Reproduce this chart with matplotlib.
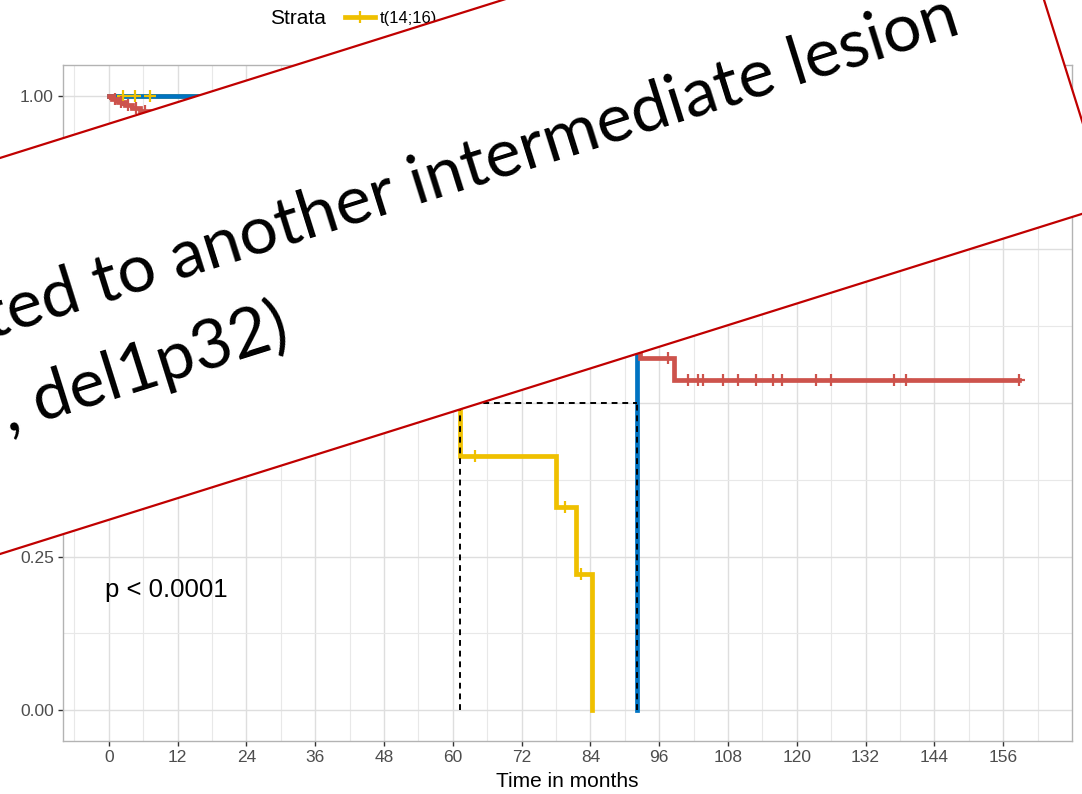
import matplotlib

matplotlib.use("Agg")
import matplotlib.pyplot as plt
import numpy as np
from matplotlib.lines import Line2D
from matplotlib.patches import Polygon

# --- Kaplan-Meier data (months, survival probability) -----------------------
yellow_label = "t(14;16)"
yellow_times = [0, 61.2, 78.0, 81.4, 84.3]
yellow_surv = [1.0, 0.413, 0.331, 0.221, 0.0]
yellow_cens_t = [2.4, 4.5, 7.2, 63.8, 79.5, 82.4]

blue_times = [0, 92.2]
blue_surv = [1.0, 0.0]
blue_cens_t = []

red_times = [0, 0.5, 1.6, 2.8, 4.0, 5.4, 92.6, 98.6]
red_surv = [1.0, 0.995, 0.99, 0.985, 0.98, 0.975, 0.573, 0.538]
red_end = 158.8
red_cens_t = [1.0, 2.2, 3.4, 4.8, 6.3, 97.5, 101.1, 102.8, 103.6, 107.2,
              109.7, 112.9, 115.9, 117.5, 123.3, 125.9, 137.0, 139.0, 158.8]

x_ticks = list(range(0, 157, 12))
y_ticks = [0.0, 0.25, 0.50, 0.75, 1.00]
p_text = "p < 0.0001"
banner_lines = ["ted to another intermediate lesion", ", del1p32)"]

YELLOW, BLUE, RED = "#EFC000", "#0073C2", "#CD534C"
W, H = 1082, 794


def surv_at(times, surv, t):
    idx = np.searchsorted(times, t, side="right") - 1
    return np.asarray(surv)[idx]


def median_time(times, surv):
    for t, s in zip(times, surv):
        if s <= 0.5:
            return t
    return None


fig = plt.figure(figsize=(W / 100, H / 100), dpi=100)
ax = fig.add_axes([63 / W, 1 - 741 / H, (1072 - 63) / W, (741 - 65) / H])

curves = [
    (yellow_times, yellow_surv, yellow_times[-1], yellow_cens_t, YELLOW),
    (blue_times, blue_surv, blue_times[-1], blue_cens_t, BLUE),
    (red_times, red_surv, red_end, red_cens_t, RED),
]
for times, surv, t_end, cens, col in curves:
    tt = list(times) + [t_end]
    ss = list(surv) + [surv[-1]]
    ax.step(tt, ss, where="post", color=col, lw=3.4, zorder=3,
            solid_joinstyle="miter")
    if cens:
        ax.plot(cens, [surv_at(times, surv, c) for c in cens], "+", color=col,
                ms=9, mew=1.6, zorder=4)

# median survival lines
meds = [median_time(yellow_times, yellow_surv), median_time(blue_times, blue_surv)]
ax.plot([0, max(meds)], [0.5, 0.5], ls=(0, (3, 2.5)), color="black", lw=1.4, zorder=5)
for m in meds:
    ax.plot([m, m], [0, 0.5], ls=(0, (3, 2.5)), color="black", lw=1.4, zorder=5)

ax.text(-0.7, 0.196, p_text, fontsize=18.5, family="Liberation Sans", va="center")

ax.set_xlim(-8, 168)
ax.set_ylim(-0.05, 1.05)
ax.set_xticks(x_ticks)
ax.set_xticks(np.arange(-6, 168, 12), minor=True)
ax.set_yticks(y_ticks)
ax.set_yticklabels([f"{v:.2f}" for v in y_ticks])
ax.set_yticks(np.arange(0.125, 1.0, 0.25), minor=True)
ax.grid(which="major", color="#DEDEDE", lw=1.0)
ax.grid(which="minor", color="#E8E8E8", lw=0.8)
ax.set_axisbelow(True)
for sp in ax.spines.values():
    sp.set_color("#B3B3B3")
    sp.set_linewidth(1.0)
ax.tick_params(which="major", length=3.5, width=1.0, color="#333333",
               labelcolor="#4D4D4D", labelsize=12.5, pad=3)
ax.tick_params(which="minor", length=0)
for lab in ax.get_xticklabels() + ax.get_yticklabels():
    lab.set_family("Liberation Sans")
ax.set_xlabel("Time in months", fontsize=15, family="Liberation Sans", labelpad=5)

# legend at the top
fig.text(270 / W, 1 - 18 / H, "Strata", fontsize=15, family="Liberation Sans",
         va="center", ha="left")
handle = Line2D([], [], color=YELLOW, lw=3.4, marker="+", ms=9, mew=1.6)
fig.legend([handle], [yellow_label], loc="center left", frameon=False,
           bbox_to_anchor=(333 / W, 1 - 18 / H), handlelength=1.8,
           handletextpad=0.3, borderaxespad=0.3,
           prop={"family": "Liberation Sans", "size": 12})

# rotated banner laid over the chart
ang = np.deg2rad(17.45)
u = np.array([np.cos(ang), -np.sin(ang)])   # along the banner (image coords)
n = np.array([np.sin(ang), np.cos(ang)])    # across the banner
corners = [a * u + b * n for a, b in [(-600, 150.7), (996, 150.7), (996, 528.5), (-600, 528.5)]]
poly = Polygon([(x / W, 1 - y / H) for x, y in corners], closed=True,
               transform=fig.transFigure, facecolor="white", edgecolor="#C00000",
               lw=1.6, zorder=10)
fig.add_artist(poly)

for txt, (px, py) in zip(banner_lines, [(962, 33), (292, 343)]):
    fig.text(px / W, 1 - py / H, txt, fontsize=49, family="Lato",
             rotation=17.45, rotation_mode="anchor", ha="right", va="baseline",
             zorder=11)

fig.savefig("out.png", dpi=100)
